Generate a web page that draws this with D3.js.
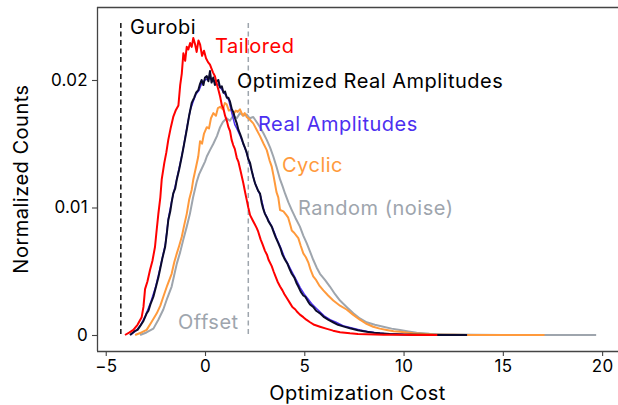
<!DOCTYPE html>
<html><head><meta charset="utf-8">
<script src="https://cdn.jsdelivr.net/npm/d3@7"></script>
<style>body{margin:0;background:#fff}svg{display:block}text{font-family:Inter,"DejaVu Sans",sans-serif}</style>
</head><body>
<svg id="c" width="618" height="405"></svg>
<script>
const xTicks = [-5, 0, 5, 10, 15, 20];
const yTicks = [0, 0.01, 0.02];
const yTickLabels = ["0", "0.01", "0.02"];
const gurobiX = -4.24;
const offsetX = 2.18;
const refTop = 0.02447;

const tailored = [[-4.03,0],[-3.8,0.0002],[-3.61,0.0004],[-3.4,0.0008],[-3.19,0.0014],[-3.1,0.0022],[-3.02,0.0036],[-2.9,0.0042],[-2.77,0.0051],[-2.65,0.0058],[-2.52,0.0069],[-2.45,0.0080],[-2.35,0.0095],[-2.25,0.0108],[-2.18,0.0122],[-2.05,0.0135],[-1.95,0.0143],[-1.85,0.0153],[-1.72,0.0163],[-1.60,0.0171],[-1.48,0.0176],[-1.34,0.0180],[-1.25,0.0196],[-1.17,0.0205],[-1.09,0.0221],[-1.0,0.0215],[-0.92,0.0226],[-0.84,0.0224],[-0.75,0.0229],[-0.67,0.0226],[-0.59,0.0233],[-0.5,0.0228],[-0.42,0.0222],[-0.33,0.0231],[-0.25,0.0228],[-0.15,0.0219],[-0.05,0.0223],[0.05,0.0217],[0.15,0.0214],[0.25,0.0212],[0.4,0.0206],[0.5,0.0203],[0.59,0.0197],[0.68,0.0192],[0.76,0.0187],[0.85,0.0180],[0.92,0.0178],[1.01,0.0172],[1.1,0.0168],[1.18,0.0163],[1.26,0.0160],[1.34,0.0153],[1.42,0.0149],[1.5,0.0146],[1.6,0.0139],[1.68,0.0136],[1.8,0.0128],[1.93,0.0119],[2.02,0.0112],[2.10,0.0106],[2.18,0.0100],[2.27,0.0094],[2.4,0.0090],[2.5,0.0087],[2.6,0.0084],[2.68,0.0081],[2.8,0.0075],[2.9,0.0071],[3.02,0.0066],[3.12,0.0063],[3.2,0.0059],[3.36,0.0054],[3.45,0.0050],[3.55,0.0046],[3.65,0.0042],[3.78,0.0038],[3.9,0.0035],[4.0,0.0032],[4.12,0.0029],[4.28,0.0025],[4.4,0.0022],[4.55,0.0020],[4.65,0.0018],[4.78,0.0016],[4.95,0.0014],[5.1,0.0012],[5.29,0.0010],[5.5,0.0008],[5.79,0.00065],[6.1,0.0005],[6.45,0.00034],[6.8,0.00022],[7.3,0.00013],[7.7,0.00008],[8.14,0.00005],[9,0.00002],[10,0.00001],[10.5,0],[11.7,0]];

const optimizedRA = [[-3.78,0],[-3.55,0.0003],[-3.4,0.0004],[-3.27,0.0007],[-3.1,0.0011],[-2.94,0.0017],[-2.85,0.0019],[-2.75,0.0024],[-2.6,0.0030],[-2.45,0.0039],[-2.35,0.0045],[-2.27,0.0051],[-2.15,0.0060],[-2.01,0.0069],[-1.92,0.0080],[-1.85,0.0090],[-1.75,0.0097],[-1.68,0.0104],[-1.60,0.0111],[-1.5,0.0115],[-1.42,0.0122],[-1.3,0.0130],[-1.17,0.0140],[-1.05,0.0150],[-0.92,0.0161],[-0.8,0.0172],[-0.67,0.0182],[-0.55,0.0186],[-0.45,0.0190],[-0.34,0.0192],[-0.25,0.0197],[-0.17,0.0200],[-0.08,0.0196],[0.0,0.0202],[0.09,0.0203],[0.17,0.0199],[0.25,0.0207],[0.33,0.0198],[0.42,0.0202],[0.5,0.0196],[0.59,0.0199],[0.67,0.0200],[0.76,0.0194],[0.85,0.0195],[0.93,0.0190],[1.01,0.0191],[1.1,0.0186],[1.18,0.0186],[1.26,0.0183],[1.35,0.0177],[1.42,0.0175],[1.51,0.0170],[1.6,0.0166],[1.68,0.0161],[1.76,0.0158],[1.85,0.0154],[1.93,0.0150],[2.01,0.0147],[2.1,0.0143],[2.18,0.0138],[2.27,0.0135],[2.35,0.0129],[2.43,0.0124],[2.52,0.0119],[2.6,0.0116],[2.68,0.0113],[2.77,0.0111],[2.85,0.0104],[2.93,0.0099],[3.02,0.0095],[3.12,0.0092],[3.2,0.0089],[3.36,0.0085],[3.45,0.0081],[3.55,0.0077],[3.69,0.0072],[3.8,0.0068],[3.9,0.0063],[4.03,0.0059],[4.15,0.0056],[4.25,0.0052],[4.37,0.0048],[4.5,0.0045],[4.6,0.0041],[4.70,0.0038],[4.82,0.0034],[4.95,0.0031],[5.05,0.0030],[5.2,0.0026],[5.29,0.0024],[5.45,0.0022],[5.6,0.0019],[5.79,0.0017],[6.0,0.0014],[6.2,0.0012],[6.45,0.0010],[6.7,0.0008],[7.0,0.00066],[7.3,0.00053],[7.7,0.00038],[8.14,0.00026],[8.5,0.00018],[8.81,0.00013],[9.3,0.00008],[10,0.00004],[11,0.00001],[11.7,0],[13.2,0]];

const realAmplitudes = [[-3.75,0],[-3.5,0.0003],[-3.27,0.0007],[-3.0,0.0015],[-2.75,0.0025],[-2.5,0.0037],[-2.27,0.0052],[-2.0,0.0071],[-1.85,0.0091],[-1.68,0.0105],[-1.5,0.0117],[-1.3,0.0131],[-1.1,0.0146],[-0.92,0.0162],[-0.75,0.0176],[-0.6,0.0183],[-0.45,0.0189],[-0.3,0.0192],[-0.15,0.0198],[0.0,0.0200],[0.15,0.0201],[0.3,0.0201],[0.45,0.0199],[0.6,0.0197],[0.75,0.0195],[0.9,0.0191],[1.05,0.0188],[1.2,0.0184],[1.35,0.0174],[1.5,0.0165],[1.6,0.0162],[1.75,0.0157],[1.9,0.0151],[2.05,0.0145],[2.2,0.0137],[2.35,0.0129],[2.5,0.0120],[2.65,0.0114],[2.8,0.0109],[3.0,0.0096],[3.2,0.0090],[3.4,0.0084],[3.6,0.0076],[3.8,0.0069],[4.0,0.0061],[4.2,0.0055],[4.4,0.0049],[4.6,0.0043],[4.8,0.0037],[5.0,0.0032],[5.2,0.0028],[5.4,0.0024],[5.6,0.0021],[5.8,0.0018],[6.0,0.0015],[6.3,0.0012],[6.6,0.0010],[7.0,0.0007],[7.4,0.00055],[7.8,0.0004],[8.2,0.00028],[8.6,0.00018],[9.0,0.00011],[10,0.00004],[11,0.00001],[12,0],[13,0]];

const cyclic = [[-3.52,0],[-3.2,0.0002],[-2.94,0.0004],[-2.7,0.0010],[-2.43,0.0017],[-2.25,0.0023],[-2.10,0.0030],[-1.9,0.0039],[-1.68,0.0048],[-1.55,0.0057],[-1.42,0.0064],[-1.3,0.0070],[-1.17,0.0077],[-1.05,0.0086],[-0.92,0.0095],[-0.8,0.0106],[-0.67,0.0114],[-0.59,0.0122],[-0.45,0.0132],[-0.34,0.0140],[-0.25,0.0152],[-0.15,0.0150],[-0.05,0.0158],[0.09,0.0163],[0.2,0.0162],[0.3,0.0170],[0.42,0.0174],[0.55,0.0172],[0.65,0.0178],[0.76,0.0179],[0.9,0.0177],[1.0,0.0182],[1.09,0.0181],[1.2,0.0176],[1.3,0.0177],[1.42,0.0173],[1.55,0.0176],[1.65,0.0175],[1.76,0.0177],[1.9,0.0172],[2.0,0.0174],[2.10,0.0171],[2.25,0.0169],[2.43,0.0166],[2.6,0.0161],[2.77,0.0156],[2.95,0.0150],[3.11,0.0145],[3.25,0.0137],[3.36,0.0132],[3.45,0.0125],[3.52,0.0119],[3.6,0.0112],[3.69,0.0108],[3.78,0.0098],[3.95,0.0097],[4.1,0.0094],[4.19,0.0092],[4.3,0.0086],[4.37,0.0082],[4.5,0.0080],[4.60,0.0078],[4.70,0.0076],[4.82,0.0070],[4.95,0.0064],[5.08,0.0061],[5.2,0.0057],[5.32,0.0051],[5.45,0.0046],[5.6,0.0043],[5.75,0.0039],[5.96,0.0035],[6.2,0.0031],[6.46,0.0027],[6.8,0.0023],[7.13,0.0020],[7.45,0.0016],[7.80,0.0012],[8.1,0.0009],[8.47,0.00065],[8.8,0.0005],[9.15,0.0004],[9.5,0.0003],[9.82,0.00026],[10.47,0.00013],[11.5,0.00004],[12.5,0.00001],[13.2,0],[17.1,0]];

const randomNoise = [[-3.27,0],[-2.95,0.0002],[-2.6,0.0005],[-2.35,0.0012],[-2.10,0.0020],[-1.9,0.0029],[-1.68,0.0038],[-1.55,0.0047],[-1.42,0.0056],[-1.25,0.0065],[-1.09,0.0075],[-0.92,0.0085],[-0.76,0.0095],[-0.6,0.0108],[-0.42,0.0120],[-0.3,0.0126],[-0.15,0.0131],[0.0,0.0136],[0.09,0.0140],[0.25,0.0145],[0.42,0.0150],[0.6,0.0156],[0.76,0.0163],[0.9,0.0167],[1.09,0.0170],[1.25,0.0168],[1.42,0.0172],[1.6,0.0170],[1.76,0.0174],[1.95,0.0172],[2.10,0.0173],[2.25,0.0170],[2.43,0.0171],[2.6,0.0167],[2.77,0.0163],[2.95,0.0158],[3.11,0.0153],[3.28,0.0147],[3.44,0.0140],[3.6,0.0132],[3.78,0.0122],[3.9,0.0117],[4.03,0.0111],[4.2,0.0104],[4.37,0.0098],[4.55,0.0092],[4.78,0.0085],[4.95,0.0078],[5.12,0.0072],[5.3,0.0065],[5.45,0.0059],[5.62,0.0053],[5.79,0.0048],[6.05,0.0043],[6.29,0.0038],[6.55,0.0032],[6.80,0.0027],[7.13,0.0022],[7.47,0.0017],[7.8,0.0013],[8.14,0.0010],[8.55,0.0008],[8.98,0.00065],[9.4,0.0005],[9.82,0.0004],[10.25,0.00028],[10.66,0.00018],[11.3,0.0001],[12,0.00006],[13.5,0.00002],[15,0],[19.7,0]];

const seriesNames = ["Random (noise)", "Cyclic", "Real Amplitudes", "Optimized Real Amplitudes", "Tailored"];
const seriesData = [randomNoise, cyclic, realAmplitudes, optimizedRA, tailored];
const seriesColors = ["#9ea5ad", "#ff9a3c", "#4c2ff0", "#0b0b2e", "#ff0000"];

const svg = d3.select("#c");
const L = 97, R = 620, T = 7, B = 351;
const x = d3.scaleLinear().domain([-5.44, -5.44 + 26.24 * (R - L) / 521]).range([L, R]);
const y = d3.scaleLinear().domain([-0.001255, 0.025725]).range([B, T]);

// frame top
svg.append("line").attr("x1", L).attr("x2", R).attr("y1", T + 0.5).attr("y2", T + 0.5).attr("stroke", "#444").attr("stroke-width", 1.3);

const xa = svg.append("g").attr("transform", `translate(0,${B})`)
  .call(d3.axisBottom(x).tickValues(xTicks).tickSize(5).tickPadding(4).tickFormat(d => d < 0 ? "\u2212" + Math.abs(d) : d));
const ya = svg.append("g").attr("transform", `translate(${L},0)`)
  .call(d3.axisLeft(y).tickValues(yTicks).tickSize(5).tickPadding(4).tickFormat((d, i) => yTickLabels[i]));
[xa, ya].forEach(a => {
  a.select(".domain").attr("stroke", "#444").attr("stroke-width", 1.3);
  a.selectAll(".tick line").attr("stroke", "#444").attr("stroke-width", 1.1);
  a.selectAll(".tick text").attr("fill", "#000").style("font-size", "17px").style("font-family", "Inter").style("letter-spacing", "0.3px");
});
ya.select(".domain").attr("d", `M0.5,${T}V${B}`);
xa.select(".domain").attr("d", `M${L},0.5H${R}`);

// reference lines
svg.append("line").attr("x1", x(gurobiX)).attr("x2", x(gurobiX)).attr("y1", y(refTop)).attr("y2", y(0))
  .attr("stroke", "#111").attr("stroke-width", 1.5).attr("stroke-dasharray", "5,3.5");
svg.append("line").attr("x1", x(offsetX)).attr("x2", x(offsetX)).attr("y1", y(refTop)).attr("y2", y(0))
  .attr("stroke", "#9ea5ad").attr("stroke-width", 1.5).attr("stroke-dasharray", "5,3.5");

const line = d3.line().x(d => x(d[0])).y(d => y(d[1]));
seriesData.forEach((s, i) => {
  svg.append("path").datum(s).attr("d", line).attr("fill", "none")
    .attr("stroke", seriesColors[i]).attr("stroke-width", i === 2 ? 1.5 : 2).attr("stroke-linejoin", "round");
});

const lab = (t, c, px, py) => svg.append("text").attr("x", px).attr("y", py).attr("fill", c)
  .style("font-size", "20px").style("letter-spacing", "0.5px").text(t);
lab("Gurobi", "#000", 130, 34);
lab("Tailored", seriesColors[4], 215, 53);
lab("Optimized Real Amplitudes", "#000", 237, 88);
lab("Real Amplitudes", seriesColors[2], 258, 131);
lab("Cyclic", seriesColors[1], 282, 172);
lab("Random (noise)", seriesColors[0], 298, 215);
lab("Offset", seriesColors[0], 178, 329);

svg.append("text").attr("x", (97 + 618) / 2).attr("y", 400).attr("text-anchor", "middle")
  .style("font-size", "20px").style("letter-spacing", "0.5px").text("Optimization Cost");
svg.append("text").attr("transform", `translate(28,${(T + B) / 2}) rotate(-90)`).attr("text-anchor", "middle")
  .style("font-size", "20px").style("letter-spacing", "0.5px").text("Normalized Counts");
</script>
</body></html>
